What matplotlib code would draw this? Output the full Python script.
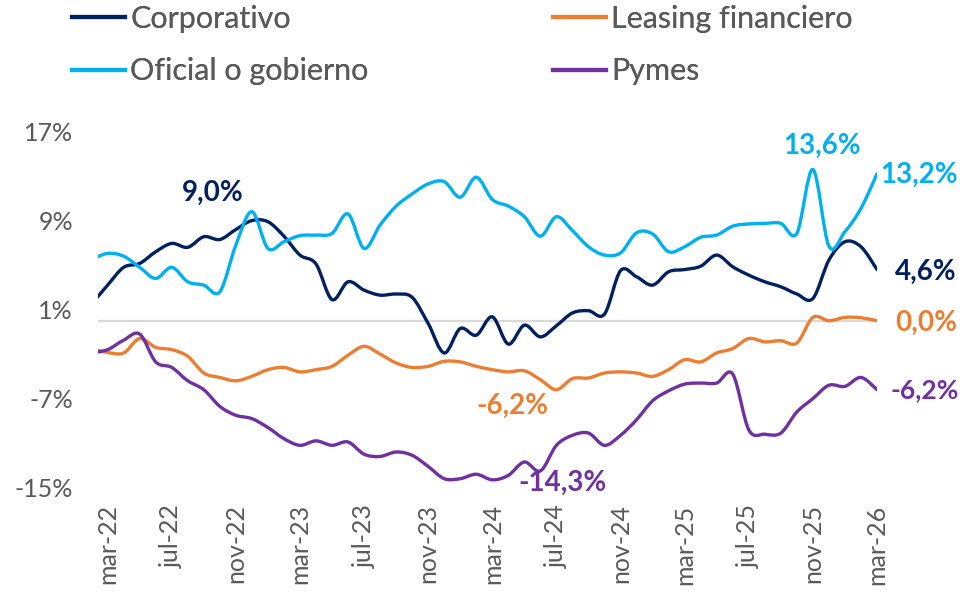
import numpy as np
import matplotlib
matplotlib.use("Agg")
import matplotlib.pyplot as plt
from matplotlib.path import Path
from matplotlib.patches import PathPatch
from matplotlib.lines import Line2D

plt.rcParams["font.family"] = ["Lato", "DejaVu Sans"]

# monthly values, feb-22 .. mar-26 (feb-22 is only partly visible at the left edge)
months = np.arange(-1, 49)
tick_pos = np.arange(0, 49, 4)
tick_labels = ["mar-22", "jul-22", "nov-22", "mar-23", "jul-23", "nov-23", "mar-24",
               "jul-24", "nov-24", "mar-25", "jul-25", "nov-25", "mar-26"]
y_ticks = [17, 9, 1, -7, -15]

corporativo = [1.5, 3.2, 4.8, 5.15, 6.2, 6.95, 6.6, 7.55, 7.3, 8.2, 9.0, 8.9, 7.6,
               5.9, 5.1, 1.9, 3.5, 2.75, 2.3, 2.4, 2.1, -0.25, -2.9, -0.7, -1.3,
               0.35, -2.1, -0.4, -1.45, -0.45, 0.7, 0.9, 0.6, 4.5, 3.95, 3.2, 4.4,
               4.6, 4.9, 5.9, 4.85, 4.1, 3.5, 3.05, 2.4, 2.0, 5.45, 7.1, 6.65, 4.6]
leasing = [-2.5, -2.85, -2.9, -1.6, -2.4, -2.6, -3.2, -4.7, -5.1, -5.4, -5.0, -4.4,
           -4.2, -4.6, -4.4, -4.1, -3.1, -2.3, -3.0, -3.8, -4.2, -4.1, -3.65, -3.7,
           -4.1, -4.4, -4.6, -4.5, -5.3, -6.2, -5.2, -5.15, -4.7, -4.6, -4.7, -5.0,
           -4.4, -3.5, -3.7, -2.9, -2.5, -1.6, -1.9, -1.8, -2.0, 0.3, 0.0, 0.3,
           0.27, 0.0]
oficial = [5.5, 6.05, 5.8, 4.8, 3.8, 4.8, 3.5, 3.2, 2.6, 6.8, 9.8, 6.5, 7.1, 7.65,
           7.7, 7.85, 9.6, 6.5, 8.6, 10.3, 11.4, 12.3, 12.5, 11.1, 12.9, 10.9,
           10.3, 9.35, 7.6, 9.35, 8.1, 6.65, 5.9, 6.1, 7.9, 7.8, 6.2, 6.65, 7.5,
           7.7, 8.5, 8.7, 8.75, 8.75, 7.85, 13.6, 6.7, 8.0, 10.1, 13.2]
pymes = [-2.9, -2.6, -1.75, -1.2, -3.7, -4.2, -5.4, -6.2, -7.7, -8.5, -8.8, -9.6,
         -10.6, -11.2, -10.8, -11.2, -10.9, -12.0, -12.2, -11.8, -12.1, -13.1,
         -14.2, -14.2, -13.8, -14.3, -13.9, -12.7, -13.5, -11.2, -10.3, -10.1,
         -11.2, -10.3, -8.9, -7.2, -6.3, -5.7, -5.6, -5.6, -4.8, -9.8, -10.2,
         -10.1, -8.2, -7.0, -5.8, -5.9, -5.1, -6.2]

series = [
    ("Corporativo", corporativo, "#002060"),
    ("Leasing financiero", leasing, "#ED7D31"),
    ("Oficial o gobierno", oficial, "#00B0F0"),
    ("Pymes", pymes, "#7030A0"),
]


def smooth_path(x, y):
    # bezier segments through every point, like a spreadsheet "smoothed line"
    n = len(x)
    verts = [(x[0], y[0])]
    codes = [Path.MOVETO]
    for i in range(n - 1):
        a = max(i - 1, 0)
        b = min(i + 2, n - 1)
        c1 = (x[i] + (x[i + 1] - x[a]) / 6, y[i] + (y[i + 1] - y[a]) / 6)
        c2 = (x[i + 1] - (x[b] - x[i]) / 6, y[i + 1] - (y[b] - y[i]) / 6)
        verts += [c1, c2, (x[i + 1], y[i + 1])]
        codes += [Path.CURVE4] * 3
    return Path(verts, codes)


fig = plt.figure(figsize=(9.67, 6.0), dpi=100)
ax = fig.add_axes([98 / 967, 1 - 487.6 / 600, 779 / 967, 356 / 600])

ax.axhline(0, color="#d9d9d9", lw=1.6, zorder=1)

for name, vals, col in series:
    ax.add_patch(PathPatch(smooth_path(months, np.array(vals, float)), fill=False,
                           edgecolor=col, lw=2.4, capstyle="round", joinstyle="round",
                           zorder=3))

ax.set_xlim(-0.6, 48)
ax.set_ylim(-15, 17)
ax.set_yticks(y_ticks)
ax.set_yticklabels([f"{t}%" for t in y_ticks])
ax.set_xticks(tick_pos)
ax.set_xticklabels(tick_labels, rotation=90, va="top", ha="center")
ax.tick_params(axis="y", length=0, pad=18, labelsize=18, labelcolor="#595959")
ax.tick_params(axis="x", length=0, pad=12, labelsize=18, labelcolor="#595959")
for s in ax.spines.values():
    s.set_visible(False)

# value labels
i_end = len(months) - 1


def label(txt, idx, vals, col, dx, dy, ha="center", size=20):
    ax.annotate(txt, xy=(months[idx], vals[idx]), xytext=(dx, dy),
                textcoords="offset pixels", ha=ha, va="center", color=col,
                fontsize=size, fontweight="bold", annotation_clip=False)


label("9,0%", 10, corporativo, "#002060", -39, 28)
label("13,6%", 45, oficial, "#00B0F0", 9, 24)
label("13,2%", i_end, oficial, "#00B0F0", 3, -1, ha="left")
label("4,6%", i_end, corporativo, "#002060", 18, -2, ha="left")
label("0,0%", i_end, leasing, "#ED7D31", 18, -2, ha="left")
label("-6,2%", i_end, pymes, "#7030A0", 14, 0, ha="left", size=19)
label("-6,2%", 29, leasing, "#ED7D31", -44, -16)
label("-14,3%", 25, pymes, "#7030A0", 70, -3)

# legend: two columns of two entries
for k, x0 in enumerate([72 / 967, 553 / 967]):
    pair = [series[k], series[k + 2]]
    handles = [Line2D([], [], color=c, lw=3) for _, _, c in pair]
    leg = fig.legend(handles, [n for n, _, _ in pair], loc="upper left",
                     bbox_to_anchor=(x0, 1 - 5 / 600), frameon=False, fontsize=22,
                     borderpad=0, borderaxespad=0, handlelength=1.75,
                     handletextpad=0.16, labelspacing=0.8, labelcolor="#595959")
    fig.add_artist(leg)

fig.savefig("out.png", dpi=100)
